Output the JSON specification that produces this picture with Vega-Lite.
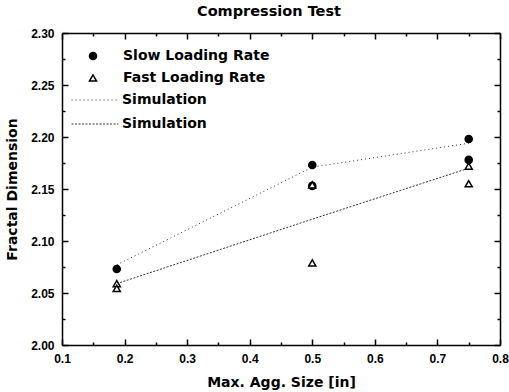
{
  "$schema": "https://vega.github.io/schema/vega-lite/v6.json",
  "width": 438,
  "height": 312,
  "autosize": {"type": "none"},
  "padding": {"left": 62, "top": 33, "right": 9, "bottom": 47},
  "background": "white",
  "title": {"text": "Compression Test", "fontSize": 14.5, "fontWeight": "bold", "font": "DejaVu Sans", "color": "black", "offset": 8, "dx": -12},
  "config": {
    "view": {"stroke": null},
    "font": "DejaVu Sans",
    "axis": {
      "domainColor": "black", "domainWidth": 1.5, "tickColor": "black", "tickWidth": 1.5,
      "labelFont": "Liberation Sans", "labelFontSize": 12, "labelFontWeight": "bold", "labelColor": "black",
      "titleFont": "DejaVu Sans", "titleFontSize": 14, "titleFontWeight": "bold", "titleColor": "black",
      "grid": false, "labelFlush": false, "labelOverlap": false
    },
    "legend": {"labelFont": "DejaVu Sans", "labelFontSize": 14, "labelFontWeight": "bold", "labelColor": "black", "padding": 0}
  },
  "datasets": {
    "points": [
      {"size_in": 0.1875, "dim": 2.073, "sample": "Slow Loading Rate"},
      {"size_in": 0.5, "dim": 2.173, "sample": "Slow Loading Rate"},
      {"size_in": 0.5, "dim": 2.153, "sample": "Slow Loading Rate"},
      {"size_in": 0.75, "dim": 2.198, "sample": "Slow Loading Rate"},
      {"size_in": 0.75, "dim": 2.178, "sample": "Slow Loading Rate"},
      {"size_in": 0.1875, "dim": 2.059, "sample": "Fast Loading Rate"},
      {"size_in": 0.1875, "dim": 2.0545, "sample": "Fast Loading Rate"},
      {"size_in": 0.5, "dim": 2.154, "sample": "Fast Loading Rate"},
      {"size_in": 0.5, "dim": 2.079, "sample": "Fast Loading Rate"},
      {"size_in": 0.75, "dim": 2.172, "sample": "Fast Loading Rate"},
      {"size_in": 0.75, "dim": 2.155, "sample": "Fast Loading Rate"}
    ],
    "sims": [
      {"size_in": 0.1875, "dim": 2.077, "model": "Simulation A"},
      {"size_in": 0.5, "dim": 2.171, "model": "Simulation A"},
      {"size_in": 0.75, "dim": 2.194, "model": "Simulation A"},
      {"size_in": 0.1875, "dim": 2.059, "model": "Simulation B"},
      {"size_in": 0.5, "dim": 2.121, "model": "Simulation B"},
      {"size_in": 0.75, "dim": 2.170, "model": "Simulation B"}
    ]
  },
  "layer": [
    {
      "data": {"name": "sims"},
      "mark": {"type": "line", "stroke": "#333333", "strokeWidth": 1},
      "encoding": {
        "x": {"field": "size_in", "type": "quantitative",
          "scale": {"domain": [0.1, 0.8], "nice": false, "zero": false},
          "axis": {"orient": "bottom", "title": "Max. Agg. Size [in]",
            "values": [0.1, 0.15, 0.2, 0.25, 0.3, 0.35, 0.4, 0.45, 0.5, 0.55, 0.6, 0.65, 0.7, 0.75, 0.8],
            "labelExpr": "round(datum.value*100) % 10 == 0 ? format(datum.value, '.1f') : ''",
            "tickSize": {"condition": {"test": "round(datum.value*100) % 10 == 0", "value": -6}, "value": -3},
            "labelPadding": 14, "titlePadding": 8}},
        "y": {"field": "dim", "type": "quantitative",
          "scale": {"domain": [2.0, 2.3], "nice": false, "zero": false},
          "axis": {"orient": "left", "title": "Fractal Dimension",
            "values": [2.0, 2.025, 2.05, 2.075, 2.1, 2.125, 2.15, 2.175, 2.2, 2.225, 2.25, 2.275, 2.3],
            "labelExpr": "round(datum.value*1000) % 50 == 0 ? format(datum.value, '.2f') : ''",
            "tickSize": {"condition": {"test": "round(datum.value*1000) % 50 == 0", "value": -6}, "value": -3},
            "labelPadding": 14, "titlePadding": 11}},
        "strokeDash": {"field": "model", "type": "nominal",
          "scale": {"domain": ["Simulation A", "Simulation B"], "range": [[1, 3], [2, 1.5]]},
          "legend": {"orient": "none", "legendX": 26, "legendY": 60, "title": null,
            "symbolType": "M-5,0H5", "symbolSize": 88, "symbolStrokeColor": "#333333", "symbolStrokeWidth": 1,
            "symbolFillColor": "transparent",
            "labelOffset": 20, "rowPadding": 10,
            "labelExpr": "'Simulation'"}}
      }
    },
    {
      "data": {"name": "points"},
      "mark": {"type": "point", "stroke": "black", "strokeWidth": 1.5, "size": 50, "opacity": 1},
      "encoding": {
        "x": {"field": "size_in", "type": "quantitative",
          "axis": {"orient": "top", "title": null, "labels": false,
            "values": [0.1, 0.15, 0.2, 0.25, 0.3, 0.35, 0.4, 0.45, 0.5, 0.55, 0.6, 0.65, 0.7, 0.75, 0.8],
            "tickSize": {"condition": {"test": "round(datum.value*100) % 10 == 0", "value": -6}, "value": -3}}},
        "y": {"field": "dim", "type": "quantitative",
          "axis": {"orient": "right", "title": null, "labels": false,
            "values": [2.0, 2.025, 2.05, 2.075, 2.1, 2.125, 2.15, 2.175, 2.2, 2.225, 2.25, 2.275, 2.3],
            "tickSize": {"condition": {"test": "round(datum.value*1000) % 50 == 0", "value": -6}, "value": -3}}},
        "shape": {"field": "sample", "type": "nominal",
          "scale": {"domain": ["Slow Loading Rate", "Fast Loading Rate"], "range": ["circle", "triangle-up"]},
          "legend": {"orient": "none", "legendX": 24, "legendY": 16, "title": null, "labelOffset": 23, "rowPadding": 8, "symbolStrokeWidth": 1.5, "symbolSize": 50}},
        "fill": {"field": "sample", "type": "nominal",
          "scale": {"domain": ["Slow Loading Rate", "Fast Loading Rate"], "range": ["black", "white"]},
          "legend": {"orient": "none", "legendX": 24, "legendY": 16, "title": null, "labelOffset": 23, "rowPadding": 8, "symbolStrokeWidth": 1.5, "symbolSize": 50}}
      }
    }
  ],
  "resolve": {"axis": {"x": "independent", "y": "independent"}}
}
